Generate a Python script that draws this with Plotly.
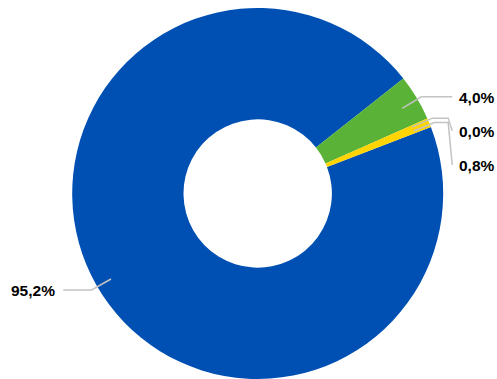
import math
import plotly.graph_objects as go

# ---- data ----
labels = ["A", "B", "C", "D"]
values = [95.2, 4.0, 0.0, 0.8]
colors = ["#0050B4", "#5AB236", "#A6A6A6", "#FFD400"]
text_labels = ["95,2%", "4,0%", "0,0%", "0,8%"]

W, H = 497, 379
cx, cy, R = 257.7, 193.5, 185.5
rotation = 69.0
hole = 0.40

fig = go.Figure()
fig.add_trace(go.Pie(
    labels=labels, values=values, sort=False, direction="clockwise",
    rotation=rotation, hole=hole,
    marker=dict(colors=colors, line=dict(width=0)),
    textinfo="none", hoverinfo="label+value", showlegend=False,
    domain=dict(x=[(cx - R) / W, (cx + R) / W], y=[1 - (cy + R) / H, 1 - (cy - R) / H]),
))


def px2paper(x, y):
    return x / W, 1 - y / H


# ---- leader lines and labels computed from slice angles ----
total = sum(values)
angle = rotation
mids = []
for v in values:
    span = v / total * 360
    mids.append(angle + span / 2)
    angle += span

lcy = cy + 2.0
line_color = "#C3C3C3"
r0, r1 = 0.91 * R, 1.03 * R
gap = 34
prev_right = None
order = sorted(range(len(values)), key=lambda i: (math.sin(math.radians(mids[i])) < 0, -math.cos(math.radians(mids[i]))))
for i in order:
    th = math.radians(mids[i])
    s, c = math.sin(th), math.cos(th)
    x0, y0 = cx + r0 * s, lcy - r0 * c
    x1, y1 = cx + r1 * s, lcy - r1 * c
    right = s >= 0
    if right:
        xe = cx + R + 9
        ly = y1 if prev_right is None else max(y1, prev_right + gap)
        prev_right = ly
        xb = xe - 4 if ly != y1 else xe
        tx, anchor = xe + 5, "left"
    else:
        xe = cx - R - 9
        ly = y1
        xb = xe
        tx, anchor = xe - 6, "right"
    pts = [(x0, y0), (x1, y1), (xb, y1), (xe, ly)]
    path = "M " + " L ".join("%.4f,%.4f" % px2paper(x, y) for x, y in pts)
    fig.add_shape(type="path", path=path, xref="paper", yref="paper",
                  line=dict(color=line_color, width=1.5))
    ax, ay = px2paper(tx, ly + 1)
    fig.add_annotation(x=ax, y=ay, xref="paper", yref="paper", text="<b>%s</b>" % text_labels[i],
                       showarrow=False, xanchor=anchor, yanchor="middle",
                       font=dict(family="Liberation Sans, Arial", size=15.5, color="#000000"))

fig.update_layout(width=W, height=H, margin=dict(l=0, r=0, t=0, b=0),
                  paper_bgcolor="white", plot_bgcolor="white")
fig.write_html("out.html")
